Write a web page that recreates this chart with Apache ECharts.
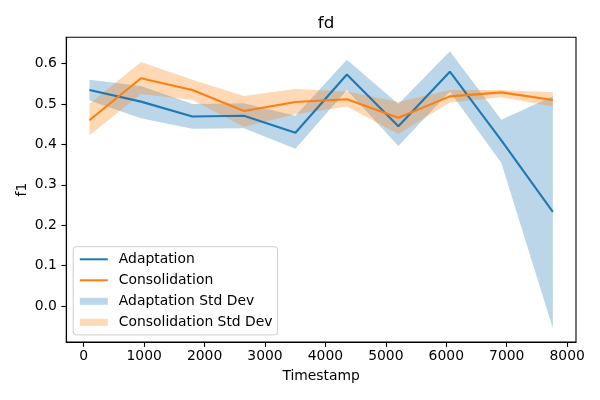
<!DOCTYPE html>
<html>
<head>
<meta charset="utf-8">
<script src="https://cdn.jsdelivr.net/npm/echarts@6/dist/echarts.min.js"></script>
<style>
  html, body { margin: 0; padding: 0; background: #fff; }
  #chart { width: 600px; height: 400px; }
</style>
</head>
<body>
<div id="chart"></div>
<script>
// timestamps of the evaluation points
var timestamps = [95, 947, 1799, 2651, 3503, 4355, 5207, 6059, 6911, 7763];

// Adaptation: mean f1 and mean +/- std
var adaptMean  = [0.535, 0.506, 0.469, 0.471, 0.429, 0.573, 0.445, 0.580, 0.410, 0.233];
var adaptUpper = [0.560, 0.545, 0.500, 0.502, 0.471, 0.610, 0.500, 0.631, 0.461, 0.519];
var adaptLower = [0.509, 0.465, 0.439, 0.440, 0.389, 0.535, 0.396, 0.531, 0.354, -0.055];

// Consolidation: mean f1 and mean +/- std
var consMean  = [0.460, 0.564, 0.535, 0.483, 0.505, 0.512, 0.466, 0.519, 0.529, 0.510];
var consUpper = [0.500, 0.604, 0.560, 0.520, 0.537, 0.531, 0.505, 0.535, 0.535, 0.529];
var consLower = [0.423, 0.525, 0.510, 0.444, 0.475, 0.494, 0.426, 0.504, 0.517, 0.494];

var xTicks = [0, 1000, 2000, 3000, 4000, 5000, 6000, 7000, 8000];
var yTicks = [0, 0.1, 0.2, 0.3, 0.4, 0.5, 0.6];

var BLUE = '#1f77b4';
var ORANGE = '#ff7f0e';
var BLUE_FILL = 'rgba(31,119,180,0.3)';
var ORANGE_FILL = 'rgba(255,127,14,0.3)';
var FONT = 'DejaVu Sans';

// matplotlib style 5% margins
function padRange(lo, hi) {
  var m = (hi - lo) * 0.05;
  return [lo - m, hi + m];
}
var xr = padRange(Math.min.apply(null, timestamps), Math.max.apply(null, timestamps));
var allY = adaptUpper.concat(adaptLower, consUpper, consLower);
var yr = padRange(Math.min.apply(null, allY), Math.max.apply(null, allY));

function band(name, upper, lower, fill) {
  return {
    name: name,
    type: 'custom',
    z: 1,
    silent: true,
    itemStyle: { color: fill },
    data: timestamps.map(function (t, i) { return [t, lower[i], upper[i]]; }),
    renderItem: function (params, api) {
      if (params.dataIndex !== 0) return;
      var pts = [];
      for (var i = 0; i < timestamps.length; i++) pts.push(api.coord([timestamps[i], upper[i]]));
      for (var j = timestamps.length - 1; j >= 0; j--) pts.push(api.coord([timestamps[j], lower[j]]));
      return { type: 'polygon', shape: { points: pts }, style: { fill: fill } };
    }
  };
}

function meanLine(name, values, color) {
  return {
    name: name,
    type: 'line',
    z: 2,
    symbol: 'none',
    lineStyle: { color: color, width: 2.1 },
    itemStyle: { color: color },
    data: timestamps.map(function (t, i) { return [t, values[i]]; })
  };
}

var axisLineStyle = { color: '#000', width: 1.1 };

var chart = echarts.init(document.getElementById('chart'));

var option = {
  animation: false,
  backgroundColor: '#fff',
  textStyle: { fontFamily: FONT },
  title: {
    text: 'fd',
    left: 321,
    top: 10,
    textAlign: 'center',
    textStyle: { fontFamily: FONT, fontSize: 16.7, fontWeight: 'normal', color: '#000' }
  },
  grid: {
    left: 66.3, right: 24, top: 37.3, bottom: 58,
    show: true, borderColor: '#000', borderWidth: 1.1, backgroundColor: 'transparent'
  },
  legend: {
    orient: 'vertical',
    left: 73.2,
    top: 246.7,
    padding: [5.6, 5, 5.6, 5.6],
    itemWidth: 28,
    itemHeight: 7,
    itemGap: 7,
    backgroundColor: 'rgba(255,255,255,0.8)',
    borderColor: '#cccccc',
    borderWidth: 1,
    borderRadius: 3,
    textStyle: { fontFamily: FONT, fontSize: 13.9, color: '#000', lineHeight: 14, padding: [0, 0, 0, 6] },
    data: [
      { name: 'Adaptation', itemStyle: { opacity: 0, borderWidth: 0 } },
      { name: 'Consolidation', itemStyle: { opacity: 0, borderWidth: 0 } },
      { name: 'Adaptation Std Dev', icon: 'rect', itemStyle: { color: BLUE_FILL } },
      { name: 'Consolidation Std Dev', icon: 'rect', itemStyle: { color: ORANGE_FILL } }
    ]
  },
  xAxis: {
    type: 'value',
    min: xr[0],
    max: xr[1],
    name: 'Timestamp',
    nameLocation: 'middle',
    nameGap: 27,
    nameMoveOverlap: false,
    nameTextStyle: { fontFamily: FONT, fontSize: 13.9, color: '#000' },
    axisLine: { show: true, onZero: false, lineStyle: axisLineStyle },
    axisTick: { show: true, inside: false, length: 4.9, lineStyle: axisLineStyle, customValues: xTicks },
    axisLabel: { fontFamily: FONT, fontSize: 13.9, color: '#000', margin: 7.5, customValues: xTicks,
      formatter: function (v) { return String(Math.round(v)); } },
    splitLine: { show: false }
  },
  yAxis: {
    type: 'value',
    min: yr[0],
    max: yr[1],
    name: 'f1',
    nameLocation: 'middle',
    nameGap: 37,
    nameRotate: 90,
    nameMoveOverlap: false,
    nameTextStyle: { fontFamily: FONT, fontSize: 13.9, color: '#000' },
    axisLine: { show: true, onZero: false, lineStyle: axisLineStyle },
    axisTick: { show: true, inside: false, length: 4.9, lineStyle: axisLineStyle, customValues: yTicks },
    axisLabel: { fontFamily: FONT, fontSize: 13.9, color: '#000', margin: 9.5, customValues: yTicks,
      formatter: function (v) { return v.toFixed(1); } },
    splitLine: { show: false }
  },
  series: [
    band('Adaptation Std Dev', adaptUpper, adaptLower, BLUE_FILL),
    band('Consolidation Std Dev', consUpper, consLower, ORANGE_FILL),
    meanLine('Adaptation', adaptMean, BLUE),
    meanLine('Consolidation', consMean, ORANGE)
  ]
};

chart.setOption(option);
</script>
</body>
</html>
